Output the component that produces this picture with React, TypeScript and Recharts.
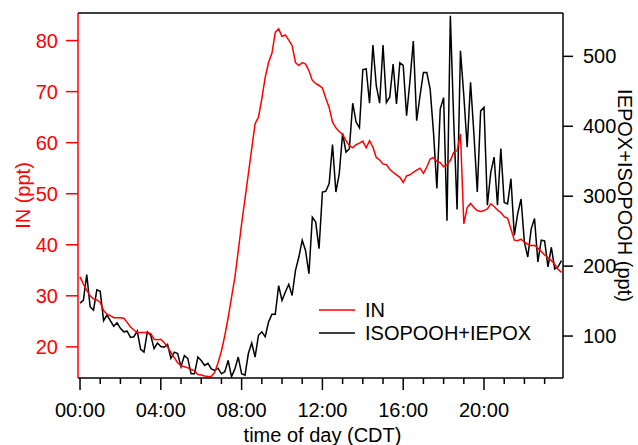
import React from "react";
import { LineChart, Line, XAxis, YAxis, Legend, ReferenceLine } from "recharts";

// 10-minute averages, 00:00 .. 23:50 (CDT)
const inPpt = [
  33.7, 32.3, 31.1, 30.0, 29.4, 29.2, 28.7, 27.1, 26.4, 26.1, 25.7, 25.7,
  25.7, 25.6, 24.8, 23.9, 23.3, 22.8, 22.8, 22.8, 22.8, 22.6, 21.5, 21.4,
  21.5, 20.8, 20.0, 18.9, 17.9, 16.9, 16.3, 16.1, 15.9, 15.6, 15.3, 14.6,
  14.5, 14.3, 14.2, 14.2, 15.0, 16.9, 19.2, 22.2, 25.7, 29.7, 33.6, 38.8,
  44.1, 49.0, 53.9, 58.8, 63.7, 65.0, 68.6, 72.8, 75.7, 77.5, 81.6, 82.3,
  80.8, 81.1, 80.1, 79.0, 75.7, 75.1, 75.7, 75.4, 74.1, 72.2, 71.6, 71.2,
  70.7, 68.7, 66.9, 64.0, 62.9, 62.2, 61.6, 60.4, 59.4, 59.0, 59.6, 59.9,
  60.3, 59.0, 60.4, 59.1, 57.1, 56.6, 55.8, 55.7, 54.8, 54.2, 53.7, 53.2,
  52.2, 53.5, 53.7, 54.2, 54.6, 55.0, 54.0, 55.2, 56.8, 57.1, 56.3, 56.1,
  55.3, 55.7, 56.5, 58.1, 58.4, 61.7, 44.1, 47.3, 48.1, 47.3, 46.7, 46.5,
  46.7, 47.0, 48.0, 47.5, 46.8, 46.3, 45.5, 45.2, 43.1, 40.9, 40.8, 41.1,
  40.5, 40.1, 39.8, 39.9, 39.3, 38.7, 38.0, 37.5, 36.9, 36.2, 35.2, 34.6,
];

const isopoohIepox = [
  147, 151, 188, 142, 137, 166, 164, 122, 130, 122, 114, 119,
  111, 106, 107, 98, 99, 107, 81, 77, 106, 101, 82, 90,
  85, 84, 88, 68, 77, 75, 56, 72, 68, 46, 46, 70,
  65, 58, 61, 53, 51, 54, 46, 49, 65, 42, 53, 70,
  46, 44, 75, 90, 70, 101, 106, 99, 120, 131, 131, 172,
  151, 163, 174, 158, 194, 213, 237, 222, 189, 270, 263, 225,
  306, 307, 318, 374, 306, 332, 390, 363, 368, 433, 406, 398,
  481, 482, 433, 516, 458, 433, 516, 434, 442, 489, 432, 491,
  487, 415, 465, 522, 408, 444, 477, 477, 453, 391, 311, 425,
  441, 265, 558, 408, 281, 508, 444, 370, 463, 389, 306, 422,
  427, 287, 334, 356, 287, 368, 291, 289, 325, 244, 275, 296,
  234, 213, 253, 268, 206, 237, 236, 199, 227, 196, 199, 208,
];

const hourTicks = [
  0, 1, 2, 3, 4, 5, 6, 7, 8, 9, 10, 11, 12, 13, 14, 15, 16, 17, 18, 19, 20, 21, 22, 23,
];
const inTicks = [20, 30, 40, 50, 60, 70, 80];
const isoTicks = [100, 200, 300, 400, 500];

const data = inPpt.map((v, i) => ({
  t: i / 6,
  inp: v,
  iso: isopoohIepox[i],
}));

const RED = "#ff0000";
const FONT = "'Liberation Sans', Arial, Helvetica, sans-serif";
const xDomain = [-0.1, 23.91];
const inDomain = [13.9, 85.4];

const TimeTick = (props: any) => {
  const { x, y, payload } = props;
  const h = payload.value as number;
  const major = h % 4 === 0;
  return (
    <g>
      <line x1={x} x2={x} y1={y} y2={y + (major ? 12 : 6)} stroke="#000" strokeWidth={1.5} />
      {major && (
        <text x={x} y={y + 39} textAnchor="middle" fontSize={20} fill="#000">
          {`${String(h).padStart(2, "0")}:00`}
        </text>
      )}
    </g>
  );
};

const LegendBox = () => (
  <svg width={240} height={52}>
    <line x1={1} x2={37} y1={14} y2={14} stroke={RED} strokeWidth={1.5} />
    <text x={47} y={21} fontSize={20} fill="#000">IN</text>
    <line x1={1} x2={37} y1={37} y2={37} stroke="#000" strokeWidth={1.5} />
    <text x={47} y={44} fontSize={20} fill="#000">ISOPOOH+IEPOX</text>
  </svg>
);

export default function App() {
  return (
    <div style={{ position: "absolute", left: 0, top: 0, width: 638, height: 445, background: "#fff", fontFamily: FONT }}>
      <LineChart width={638} height={445} data={data} margin={{ top: 13, right: 0, bottom: 0, left: 0 }}>
        <XAxis
          xAxisId="bottom"
          dataKey="t"
          type="number"
          domain={xDomain}
          allowDataOverflow
          ticks={hourTicks}
          interval={0}
          height={67}
          tickSize={0}
          tickMargin={0}
          tickLine={false}
          axisLine={{ stroke: "#000", strokeWidth: 1.5 }}
          tick={<TimeTick />}
          label={(p: any) => {
            const vb = p.viewBox || { x: 78, y: 378, width: 485, height: 67 };
            return (
              <text x={vb.x + vb.width / 2 + 2} y={vb.y + 64} textAnchor="middle" fontSize={20} fill="#000">
                time of day (CDT)
              </text>
            );
          }}
        />
        <YAxis
          yAxisId="left"
          type="number"
          domain={inDomain}
          allowDataOverflow
          ticks={inTicks}
          width={78}
          tickSize={12}
          tickMargin={8}
          axisLine={{ stroke: RED, strokeWidth: 1.5 }}
          tickLine={{ stroke: RED, strokeWidth: 1.5 }}
          tick={{ fill: RED, fontSize: 20 }}
          label={(p: any) => {
            const vb = p.viewBox || { x: 0, y: 13, width: 78, height: 365 };
            const cx = vb.x + 23;
            const cy = vb.y + vb.height / 2;
            return (
              <text x={cx} y={cy} dy="0.35em" textAnchor="middle" fontSize={20} fill={RED} transform={`rotate(-90, ${cx}, ${cy})`}>
                IN (ppt)
              </text>
            );
          }}
        />
        <YAxis
          yAxisId="right"
          orientation="right"
          type="number"
          domain={[40, 562]}
          allowDataOverflow
          ticks={isoTicks}
          width={75}
          tickSize={10}
          tickMargin={10}
          axisLine={{ stroke: "#000", strokeWidth: 1.5 }}
          tickLine={{ stroke: "#000", strokeWidth: 1.5 }}
          tick={{ fill: "#000", fontSize: 20 }}
          label={(p: any) => {
            const vb = p.viewBox || { x: 563, y: 13, width: 75, height: 365 };
            const cx = vb.x + 62;
            const cy = vb.y + vb.height / 2;
            return (
              <text x={cx} y={cy} dy="0.35em" textAnchor="middle" fontSize={20} fill="#000" transform={`rotate(90, ${cx}, ${cy})`}>
                IEPOX+ISOPOOH (ppt)
              </text>
            );
          }}
        />
        {/* top frame line */}
        <ReferenceLine xAxisId="bottom" yAxisId="left" y={inDomain[1]} stroke="#000" strokeWidth={1.5} />
        <Legend
          layout="vertical"
          align="center"
          verticalAlign="middle"
          content={<LegendBox />}
          wrapperStyle={{ left: 318, top: 296, width: 240, height: 52 }}
        />
        <Line
          xAxisId="bottom"
          yAxisId="right"
          type="linear"
          dataKey="iso"
          stroke="#000"
          strokeWidth={1.5}
          dot={false}
          isAnimationActive={false}
        />
        <Line
          xAxisId="bottom"
          yAxisId="left"
          type="linear"
          dataKey="inp"
          stroke={RED}
          strokeWidth={1.5}
          dot={false}
          isAnimationActive={false}
        />
      </LineChart>
    </div>
  );
}
